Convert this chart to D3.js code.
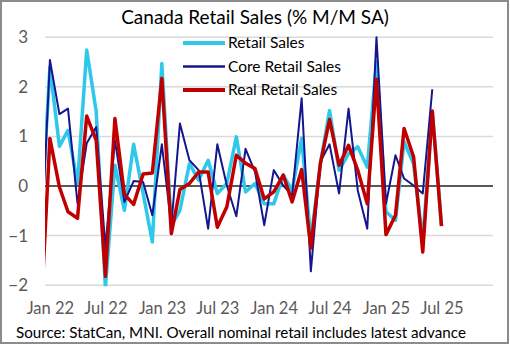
<!DOCTYPE html>
<html>
<head>
<meta charset="utf-8">
<script src="https://cdn.jsdelivr.net/npm/d3@7"></script>
<style>
  body { margin: 0; background: #fff; }
  text { font-family: Lato, "Noto Sans", sans-serif; }
</style>
</head>
<body>
<div id="chart"></div>
<script>
// monthly data, Dec 2021 .. Jul 2025 (first point sits just left of the plot and gets clipped)
var months = ["2021-12",
  "2022-01","2022-02","2022-03","2022-04","2022-05","2022-06","2022-07","2022-08","2022-09","2022-10","2022-11","2022-12",
  "2023-01","2023-02","2023-03","2023-04","2023-05","2023-06","2023-07","2023-08","2023-09","2023-10","2023-11","2023-12",
  "2024-01","2024-02","2024-03","2024-04","2024-05","2024-06","2024-07","2024-08","2024-09","2024-10","2024-11","2024-12",
  "2025-01","2025-02","2025-03","2025-04","2025-05","2025-06","2025-07"];

var retailSales = [-1.0,
  2.4, 0.80, 1.12, 0.05, 2.74, 1.5, -2.05, 0.42, -0.49, 0.84, -0.15, -1.13,
  2.47, -0.8, -0.49, 0.45, 0.12, 0.52, -0.15, 0.05, 0.99, -0.12, 0.05, -0.36,
  -0.36, 0.22, -0.09, 0.96, -1.1, 0.45, 1.52, 0.32, 0.65, 0.79, 0.38, 2.5,
  -0.52, -0.69, 0.89, 0.45, -1.1, 1.5, -0.8];

var coreRetailSales = [-1.6,
  2.54, 1.45, 1.56, -0.35, 0.86, 1.19, -1.23, 0.92, -0.32, 0.1, 0.08, -0.59,
  0.84, -0.8, 1.26, 0.52, 0.32, -0.86, 0.84, 0.01, -0.61, 0.75, 0.28, -0.79,
  0.32, 0.01, -0.19, 1.77, -1.72, 0.49, 0.84, -0.15, 1.56, -0.09, -0.86, 3.0,
  -0.36, 0.62, 0.15, 0.01, -0.15, 1.95, null];

var realRetailSales = [-2.8,
  0.96, -0.02, -0.52, -0.65, 1.41, 0.92, -1.82, 1.36, -0.17, -0.37, 0.24, 0.26,
  2.17, -0.96, -0.07, 0.05, 0.28, 0.28, -0.83, -0.42, 0.62, 0.46, 0.35, -0.26,
  -0.12, 0.22, -0.32, 0.33, -1.25, 0.45, 1.34, 0.42, 0.82, 0.32, -0.36, 2.15,
  -0.98, -0.59, 1.16, 0.59, -1.33, 1.51, -0.81];

var yTicks = [-2, -1, 0, 1, 2, 3];
var xTickMonths = ["2022-01","2022-07","2023-01","2023-07","2024-01","2024-07","2025-01","2025-07"];

var W = 510, H = 345;
var plot = {left: 45, right: 493, top: 37.2, bottom: 285.2};

var parseMonth = d3.timeParse("%Y-%m");

var svg = d3.select("#chart").append("svg")
  .attr("width", W)
  .attr("height", H);

// outer border
svg.append("rect")
  .attr("x", 1).attr("y", 1)
  .attr("width", W - 3).attr("height", H - 3)
  .attr("fill", "#fff")
  .attr("stroke", "#8c8c8c")
  .attr("stroke-width", 2);

var x = d3.scaleTime()
  .domain([new Date(2021, 11, 16), new Date(2025, 11, 16)])
  .range([plot.left, plot.right]);

var y = d3.scaleLinear()
  .domain([-2, 3])
  .range([plot.bottom, plot.top]);

// gridlines
svg.append("g")
  .selectAll("line")
  .data(yTicks.filter(d => d !== 0))
  .join("line")
  .attr("x1", plot.left).attr("x2", plot.right)
  .attr("y1", d => y(d)).attr("y2", d => y(d))
  .attr("stroke", "#d9d9d9")
  .attr("stroke-width", 1.5);

// y axis labels
var yAxis = d3.axisLeft(y).tickValues(yTicks).tickSize(0).tickPadding(0).tickFormat(d3.format("d"));
var gy = svg.append("g")
  .attr("transform", "translate(28,0)")
  .call(yAxis);
gy.select(".domain").remove();
gy.selectAll("text")
  .attr("fill", "#595959")
  .style("font-size", "17px")
  .style("font-family", "Lato, 'Noto Sans', sans-serif");

// x axis labels
var xAxis = d3.axisBottom(x)
  .tickValues(xTickMonths.map(parseMonth))
  .tickSize(0).tickPadding(0)
  .tickFormat(d3.timeFormat("%b %y"));
var gx = svg.append("g")
  .attr("transform", "translate(0,302)")
  .call(xAxis);
gx.select(".domain").remove();
gx.selectAll("text")
  .attr("fill", "#595959")
  .style("font-size", "16.5px")
  .style("font-family", "Lato, 'Noto Sans', sans-serif");

// zero line
svg.append("line")
  .attr("x1", plot.left).attr("x2", plot.right)
  .attr("y1", y(0)).attr("y2", y(0))
  .attr("stroke", "#595959")
  .attr("stroke-width", 2);

svg.append("clipPath").attr("id", "plotClip")
  .append("rect")
  .attr("x", plot.left).attr("y", plot.top - 3)
  .attr("width", plot.right - plot.left)
  .attr("height", plot.bottom - plot.top + 4);

var series = [
  {name: "Retail Sales", values: retailSales, color: "#2ec9ea", width: 3.5},
  {name: "Core Retail Sales", values: coreRetailSales, color: "#13168f", width: 2},
  {name: "Real Retail Sales", values: realRetailSales, color: "#c00000", width: 3.5}
];

var line = d3.line()
  .defined(d => d.v !== null)
  .x(d => x(d.date))
  .y(d => y(d.v));

var lines = svg.append("g").attr("clip-path", "url(#plotClip)");
series.forEach(function(s) {
  var pts = months.map((m, i) => ({date: parseMonth(m), v: s.values[i]}));
  lines.append("path")
    .datum(pts)
    .attr("d", line)
    .attr("fill", "none")
    .attr("stroke", s.color)
    .attr("stroke-width", s.width)
    .attr("stroke-linejoin", "round");
});

// legend
var legend = svg.append("g").attr("transform", "translate(183,43)");
series.forEach(function(s, i) {
  var row = legend.append("g").attr("transform", "translate(0," + (i * 23.5) + ")");
  row.append("line")
    .attr("x1", 0).attr("x2", 42)
    .attr("stroke", s.color)
    .attr("stroke-width", s.width + 0.5);
  row.append("text")
    .attr("x", 45).attr("dy", "0.35em")
    .style("font-size", "15.5px")
    .attr("fill", "#000")
    .text(s.name);
});

// title
svg.append("text")
  .attr("x", 255).attr("y", 24)
  .attr("text-anchor", "middle")
  .style("font-size", "19px")
  .attr("fill", "#000")
  .text("Canada Retail Sales (% M/M SA)");

// source
svg.append("text")
  .attr("x", 16).attr("y", 338)
  .style("font-size", "15.2px")
  .attr("fill", "#000")
  .text("Source: StatCan, MNI. Overall nominal retail includes latest advance");
</script>
</body>
</html>
